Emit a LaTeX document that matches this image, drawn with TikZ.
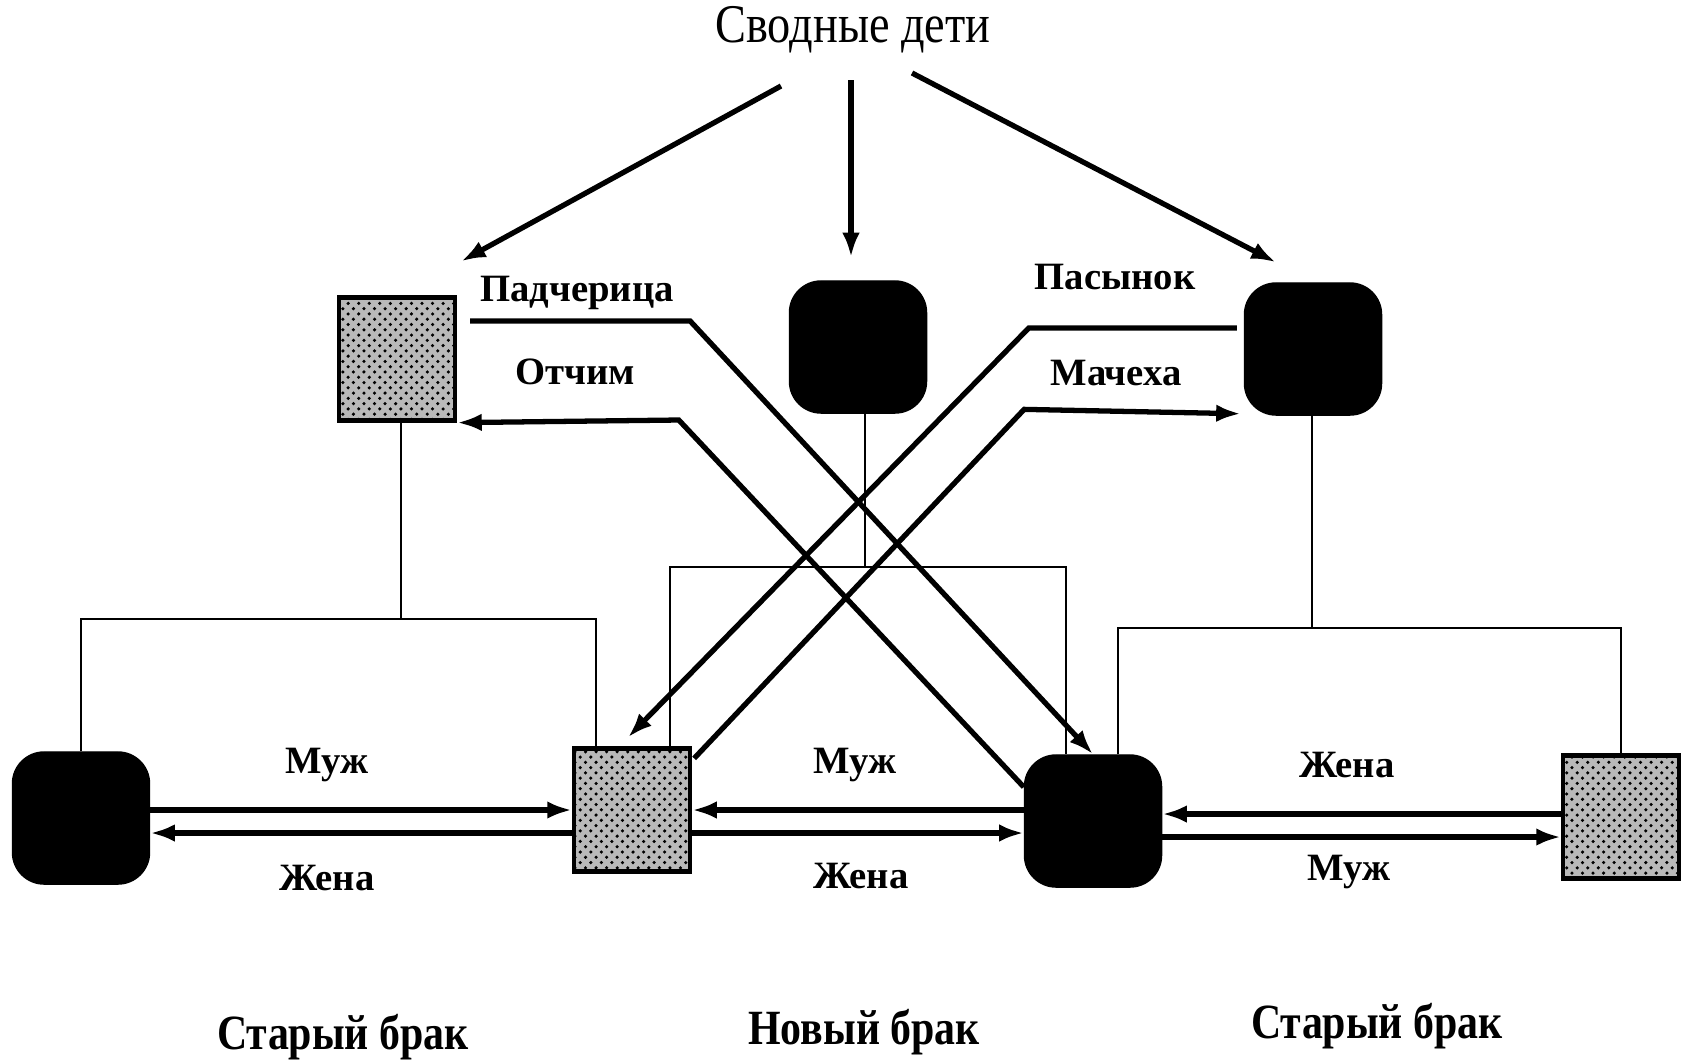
\documentclass[tikz,border=0pt]{standalone}
\usepackage{fontspec}
\setmainfont{Liberation Serif}
\newfontfamily\condfont[FakeStretch=0.85]{Liberation Serif}
\usetikzlibrary{arrows.meta,patterns}

\tikzset{
    male/.style={fill=black, draw=black, rounded corners=9pt, inner sep=0pt,
        minimum width=1.37cm, minimum height=1.32cm},
    female/.style={draw=black, line width=1.2pt, fill=gray!55, inner sep=0pt,
        postaction={pattern=crosshatch dots},
        minimum width=1.16cm, minimum height=1.23cm},
    kin/.style={line width=0.6pt},
    rel/.style={line width=1.5pt, -{Latex[length=7pt,width=5pt]}},
    lbl/.style={font=\bfseries\fontsize{11}{13}\selectfont},
    marriage/.style={font=\condfont\bfseries\fontsize{14}{16}\selectfont}
}

\begin{document}
\begin{tikzpicture}[x=0.01cm, y=-0.01cm]

    \useasboundingbox (0,0) rectangle (1683,1063);

    % Title
    \node[font=\condfont\fontsize{15.5}{18}\selectfont] (title) at (853,30) {Сводные дети};

    % Children
    \node[female] (g1) at (397,359) {};
    \node[male]   (b2) at (858,347) {};
    \node[male]   (b3) at (1313,349) {};

    % Parents
    \node[male]   (L1) at (81,818) {};
    \node[female] (G2) at (632,810) {};
    \node[male]   (B3) at (1093,821) {};
    \node[female] (G4) at (1621,817) {};

    % Family brackets
    \coordinate (m1) at (401,619);
    \coordinate (m2) at (865,567);
    \coordinate (m3) at (1312,628);
    \draw[kin] (L1.north) |- (m1) -| ([shift={(-36,0)}]G2.north);
    \draw[kin] (g1.south -| m1) -- (m1);
    \draw[kin] ([shift={(38,0)}]G2.north) |- (m2) -| ([shift={(-27,0)}]B3.north);
    \draw[kin] (b2.south -| m2) -- (m2);
    \draw[kin] ([shift={(25,0)}]B3.north) |- (m3) -| (G4.north);
    \draw[kin] (b3.south -| m3) -- (m3);

    % Arrows from the title
    \draw[rel] ([shift={(-72,56)}]title.center) -- ([shift={(4,-34)}]g1.north east);
    \draw[rel] ([shift={(-2,50)}]title.center) -- ([shift={(-7,-23)}]b2.north);
    \draw[rel] ([shift={(59,43)}]title.center) -- ([shift={(32,-20)}]b3.north west);

    % Step relations
    \draw[rel] ([shift={(13,-38)}]g1.east) -- ++(220,0) -- (B3.north);
    \draw[rel] ([shift={(0,-34)}]B3.west) -- ++(-345,-367) -- (g1.south east);
    \draw[rel] ([shift={(-7,-21)}]b3.west) -- ++(-208,0) -- ([shift={(-4,-9)}]G2.north);
    \draw[rel] ([shift={(2,12)}]G2.north east) -- ++(330,-349) -- ([shift={(-3,-2)}]b3.south west);

    \node[lbl] (padch) at (577,293) {Падчерица};
    \node[lbl] (otch)  at (575,372) {Отчим};
    \node[lbl] (pas)   at (1115,277) {Пасынок};
    \node[lbl] (mach)  at (1116,373) {Мачеха};

    % Marriage arrows
    \draw[rel] ([shift={(0,-8)}]L1.east) -- (G2.west);
    \draw[rel] ([shift={(0,23)}]G2.west) -- ([shift={(0,15)}]L1.east);
    \draw[rel] ([shift={(0,-11)}]B3.west) -- (G2.east);
    \draw[rel] ([shift={(0,23)}]G2.east) -- ([shift={(0,12)}]B3.west);
    \draw[rel] ([shift={(0,-3)}]G4.west) -- ([shift={(0,-7)}]B3.east);
    \draw[rel] ([shift={(0,16)}]B3.east) -- ([shift={(0,20)}]G4.west);

    \node[lbl] (muzh1) at (327,765) {Муж};
    \node[lbl] (zhena1) at (327,878) {Жена};
    \node[lbl] (muzh2) at (855,765) {Муж};
    \node[lbl] (zhena2) at (861,876) {Жена};
    \node[lbl] (zhena3) at (1347,765) {Жена};
    \node[lbl] (muzh3) at (1349,872) {Муж};

    % Marriage captions
    \node[marriage] (old1) at (343,1037) {Старый брак};
    \node[marriage] (new)  at (864,1032) {Новый брак};
    \node[marriage] (old2) at (1377,1026) {Старый брак};

\end{tikzpicture}
\end{document}
